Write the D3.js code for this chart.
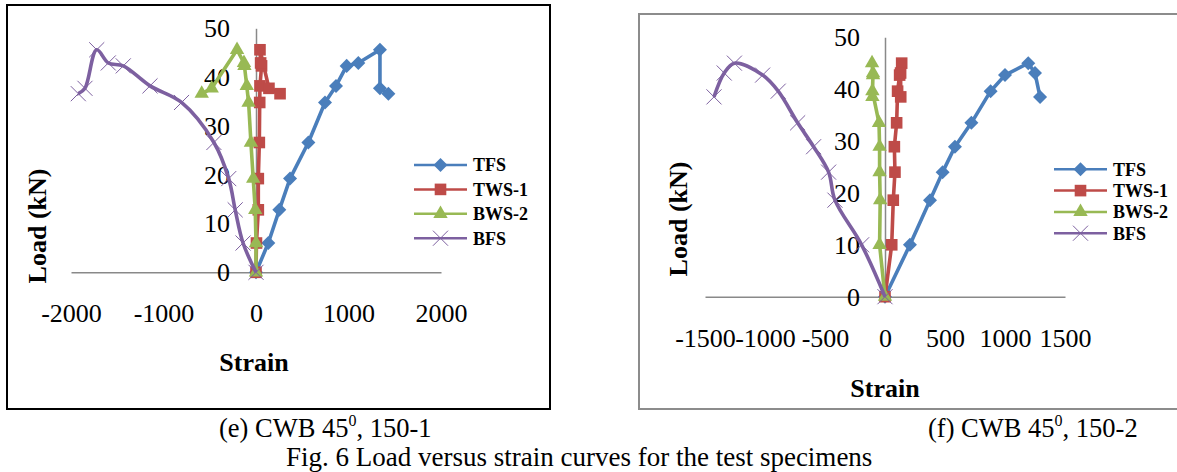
<!DOCTYPE html>
<html>
<head>
<meta charset="utf-8">
<script src="https://cdn.jsdelivr.net/npm/d3@7"></script>
<style>
  body { margin: 0; background: #fff; }
  text { font-family: "Liberation Serif", "Times New Roman", serif; fill: #000; }
</style>
</head>
<body>
<div id="fig"></div>
<script>
// Series names (legend order)
var seriesNames = ["TFS", "TWS-1", "BWS-2", "BFS"];

// Axis ticks
var yTicks = [0, 10, 20, 30, 40, 50];
var xTicksE = [-2000, -1000, 0, 1000, 2000];
var xTicksF = [-1500, -1000, -500, 0, 500, 1000, 1500];

// (e) CWB 45, 150-1 : load steps (kN) and strain per series
var loadE = [0, 6, 12.8, 19.2, 26.6, 34.8, 38.2, 42.3, 42.9, 45.6, 37.7, 36.6];
var tfsE  = [0, 133, 252, 368, 566, 746, 865, 980, 1106, 1340, 1340, 1431];
var tws1E = [0, 5, 25, 25, 36, 40, 43, 60, 50, 43, 140, 260];
var bws2E = [0, 0, -8, -30, -55, -80, -100, -125, -130, -205, -479, -587];
var bfsE  = [0, -140, -225, -295, -455, -805, -1146, -1435, -1597, -1722, -1849, -1921];

// (f) CWB 45, 150-2
var loadF = [0, 10, 18.6, 24, 28.9, 33.5, 39.6, 42.7, 45, 43.1, 38.5];
var tfsF  = [0, 208, 375, 480, 583, 720, 880, 1000, 1194, 1250, 1292];
var tws1F = [0, 56, 69, 83, 78, 97, 105, 122, 139, 130, 131];
var bws2F = [0, -45, -40, -45, -45, -50, -105, -100, -108, -100, -105];
var bfsF  = [0, -195, -417, -470, -595, -728, -890, -1020, -1255, -1340, -1425];

// Captions
var captionE = ["(e) CWB 45", "0", ", 150-1"];
var captionF = ["(f) CWB 45", "0", ", 150-2"];
var figCaption = "Fig. 6 Load versus strain curves for the test specimens";

var colors = ["#4A7EBB", "#BE4B48", "#98B954", "#7D60A0"];
var markers = [
  {type: d3.symbolDiamond2, size: 125},
  {type: d3.symbolSquare, size: 135},
  {type: d3.symbolTriangle, size: 90},
  {type: d3.symbolTimes, size: 150}
];

var svg = d3.select("#fig")
  .append("svg")
  .attr("width", 1177)
  .attr("height", 472);

svg.append("rect").attr("width", 1177).attr("height", 472).attr("fill", "#fff");

function drawMarker(g, i, x, y) {
  var m = markers[i];
  var p = g.append("path")
    .attr("d", d3.symbol().type(m.type).size(m.size)())
    .attr("transform", "translate(" + x + "," + y + ")");
  if (i === 3) {
    p.attr("fill", "none").attr("stroke", colors[i]).attr("stroke-width", 1);
  } else {
    p.attr("fill", colors[i]);
  }
}

function drawChart(o) {
  // frame
  svg.append("rect")
    .attr("x", o.box[0]).attr("y", o.box[1])
    .attr("width", o.box[2]).attr("height", o.box[3])
    .attr("fill", "none")
    .attr("stroke", o.boxColor)
    .attr("stroke-width", 2);

  var x = d3.scaleLinear().domain(o.xDomain).range(o.xRange);
  var y = d3.scaleLinear().domain([0, 50]).range(o.yRange);

  // axes crossing at zero
  var xAxis = svg.append("g")
    .attr("transform", "translate(0," + y(0) + ")")
    .call(d3.axisBottom(x).tickValues(o.xTicks).tickSize(0).tickSizeOuter(0)
      .tickPadding(o.xPad).tickFormat(d3.format("d")));
  var yAxis = svg.append("g")
    .attr("transform", "translate(" + x(0) + ",0)")
    .call(d3.axisLeft(y).tickValues(yTicks).tickSize(0).tickSizeOuter(0)
      .tickPadding(o.yPad));

  [xAxis, yAxis].forEach(function (a) {
    a.select(".domain").attr("stroke", "#898989").attr("stroke-width", 1.5);
    a.selectAll("text")
      .style("font-family", "'Liberation Serif', serif")
      .style("font-size", o.tickFont + "px")
      .attr("fill", "#000");
  });
  xAxis.selectAll("text").text(function (d) { return d < 0 ? "-" + Math.abs(d) : d; });

  // series
  o.series.forEach(function (s, i) {
    var pts = s.map(function (v, k) { return [x(v), y(o.loads[k])]; });
    var line = d3.line().curve(i === 3 ? d3.curveCatmullRom.alpha(0.5) : d3.curveLinear);
    svg.append("path")
      .attr("d", line(pts))
      .attr("fill", "none")
      .attr("stroke", colors[i])
      .attr("stroke-width", 3.6)
      .attr("stroke-linejoin", "round");
    var mg = svg.append("g");
    pts.forEach(function (p) { drawMarker(mg, i, p[0], p[1]); });
  });

  // legend
  seriesNames.forEach(function (name, i) {
    var ly = o.legend.y + i * o.legend.dy;
    svg.append("line")
      .attr("x1", o.legend.x).attr("x2", o.legend.x + 53)
      .attr("y1", ly).attr("y2", ly)
      .attr("stroke", colors[i]).attr("stroke-width", 2.5);
    drawMarker(svg, i, o.legend.x + 26.5, ly);
    svg.append("text")
      .attr("x", o.legend.x + 59).attr("y", ly)
      .attr("dy", "0.35em")
      .style("font-size", "18px")
      .style("font-weight", "bold")
      .text(name);
  });

  // axis titles
  svg.append("text")
    .attr("x", o.xTitle[0]).attr("y", o.xTitle[1])
    .attr("text-anchor", "middle")
    .style("font-size", "26px").style("font-weight", "bold")
    .text("Strain");
  svg.append("text")
    .attr("transform", "translate(" + o.yTitle[0] + "," + o.yTitle[1] + ") rotate(-90)")
    .attr("text-anchor", "middle")
    .style("font-size", "26px").style("font-weight", "bold")
    .text("Load (kN)");
}

drawChart({
  box: [7, 5, 543, 404], boxColor: "#000",
  xDomain: [-2000, 2000], xRange: [71, 441], yRange: [272.3, 28.3],
  xTicks: xTicksE, xPad: 31.5, yPad: 26, tickFont: 26,
  loads: loadE, series: [tfsE, tws1E, bws2E, bfsE],
  legend: {x: 414, y: 165, dy: 24.4},
  xTitle: [254, 371], yTitle: [46, 226]
});

drawChart({
  box: [639, 14, 560, 395], boxColor: "#8c8c8c",
  xDomain: [-1500, 1500], xRange: [705, 1065], yRange: [296.7, 37.2],
  xTicks: xTicksF, xPad: 32, yPad: 25, tickFont: 26,
  loads: loadF, series: [tfsF, tws1F, bws2F, bfsF],
  legend: {x: 1054, y: 169.3, dy: 21.3},
  xTitle: [885, 396.7], yTitle: [687, 219]
});

// captions
function caption(parts, x, y) {
  var t = svg.append("text").attr("x", x).attr("y", y).style("font-size", "26.5px");
  t.append("tspan").text(parts[0]);
  t.append("tspan").attr("dy", -11).style("font-size", "16px").text(parts[1]);
  t.append("tspan").attr("dy", 11).text(parts[2]);
}
caption(captionE, 219, 437);
caption(captionF, 928, 437);
svg.append("text")
  .attr("x", 286).attr("y", 466)
  .style("font-size", "27px")
  .text(figCaption);
</script>
</body>
</html>
